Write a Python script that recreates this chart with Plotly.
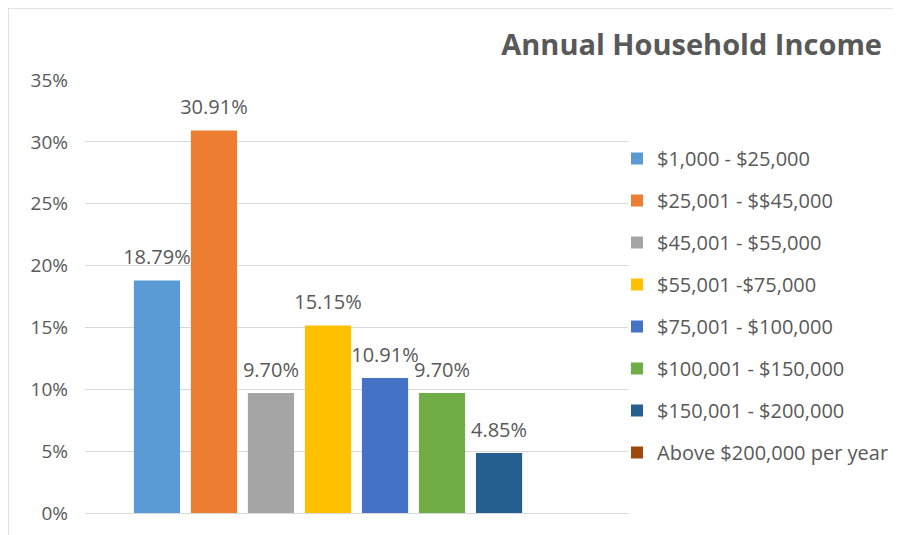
import plotly.graph_objects as go

categories = ["$1,000 - $25,000", "$25,001 - $$45,000", "$45,001 - $55,000",
              "$55,001 -$75,000", "$75,001 - $100,000", "$100,001 - $150,000",
              "$150,001 - $200,000", "Above $200,000 per year"]
values = [0.1879, 0.3091, 0.0970, 0.1515, 0.1091, 0.0970, 0.0485, 0.0]
colors = ["#5B9BD5", "#ED7D31", "#A5A5A5", "#FFC000", "#4472C4", "#70AD47", "#255E91", "#9E480E"]
tick_vals = [0, 0.05, 0.10, 0.15, 0.20, 0.25, 0.30, 0.35]

FONT = "Open Sans"
GREY = "#595959"
GAP = 0.16

fig = go.Figure()
for name, v, c in zip(categories, values, colors):
    fig.add_trace(go.Bar(
        x=[""], y=[v], name=name, marker=dict(color=c, line=dict(width=0)),
        legendgroup=name, hoverinfo="skip",
    ))

# data labels, grouped like the bars
for name, v in zip(categories, values):
    fig.add_trace(go.Scatter(
        x=[""], y=[v], mode="markers+text",
        text=[f"{v:.2%}" if v > 0 else ""], textposition="top center",
        textfont=dict(family=FONT, size=20, color=GREY),
        marker=dict(size=16.5, color="rgba(0,0,0,0)"),
        showlegend=False, cliponaxis=False, hoverinfo="skip",
    ))

W, H = 893, 527
L, R, T, B = 77, 273, 72, 22
pw = W - L - R
ph = H - T - B

fig.update_layout(
    width=W, height=H,
    margin=dict(l=L, r=R, t=T, b=B, autoexpand=False),
    paper_bgcolor="white", plot_bgcolor="white",
    barmode="group", bargap=GAP, bargroupgap=0.19,
    scattermode="group", scattergap=GAP,
    font=dict(family=FONT, color=GREY),
    title=dict(text="<b>Annual Household Income</b>", x=874 / W, xanchor="right",
               y=1 - 37 / H, yanchor="middle",
               font=dict(family=FONT, size=29, color=GREY)),
    showlegend=True,
    legend=dict(x=(609 - L) / pw, xanchor="left", y=(H - B - 131) / ph, yanchor="top",
                font=dict(family=FONT, size=20, color=GREY), tracegroupgap=13,
                itemwidth=30, bgcolor="rgba(0,0,0,0)"),
    xaxis=dict(showticklabels=False, showgrid=False, zeroline=False, showline=False, ticks=""),
    yaxis=dict(range=[0, 0.35], tickvals=tick_vals, tickformat=".0%",
               showgrid=True, gridcolor="#D9D9D9", gridwidth=1.3,
               zeroline=True, zerolinecolor="#D9D9D9", zerolinewidth=1.3,
               showline=False, ticks="", ticklabelstandoff=16,
               tickfont=dict(family=FONT, size=19, color=GREY)),
)

# chart area border
fig.add_shape(type="rect", xref="paper", yref="paper",
              x0=(0 - L) / pw, x1=(W + 20 - L) / pw,
              y0=(H - B - (H + 20)) / ph, y1=(H - B) / ph,
              line=dict(color="#D9D9D9", width=1.5), fillcolor="rgba(0,0,0,0)", layer="below")

fig.write_html("out.html")
